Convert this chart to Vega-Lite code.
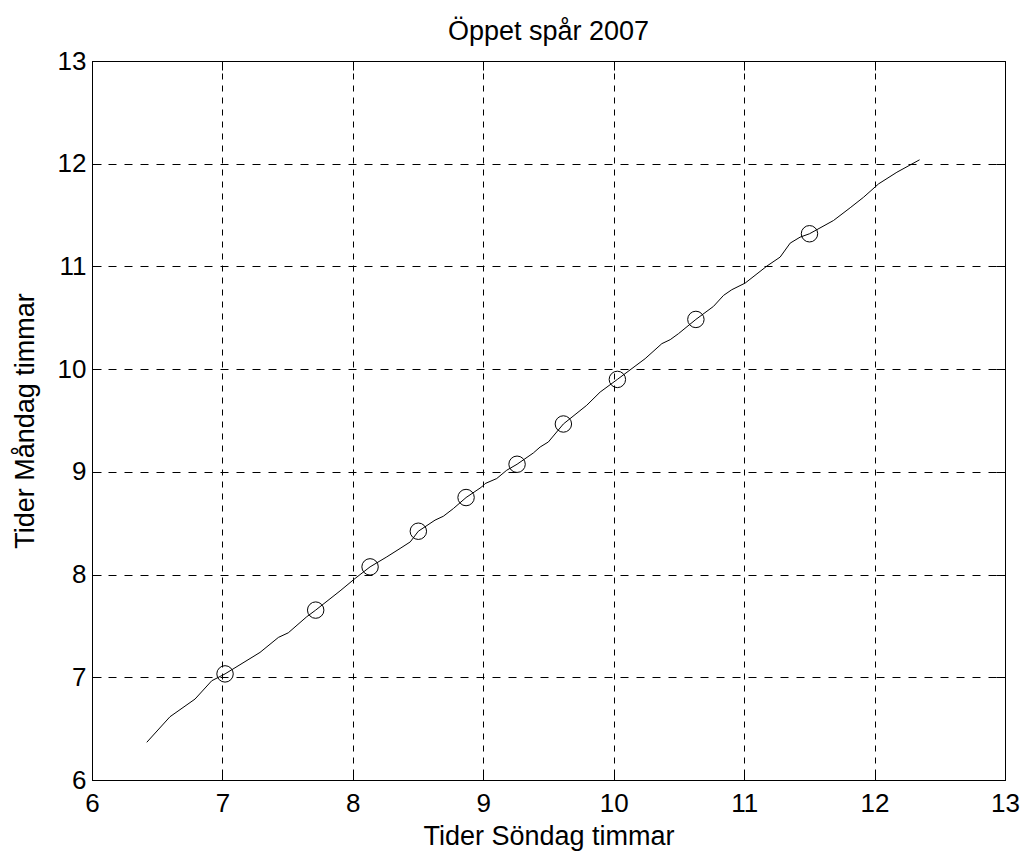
{
  "$schema": "https://vega.github.io/schema/vega-lite/v6.json",
  "autosize": "none",
  "width": 913,
  "height": 719,
  "padding": {"left": 92, "top": 61, "right": 18, "bottom": 72},
  "background": "white",
  "config": {
    "view": {"stroke": "black", "strokeWidth": 1},
    "font": "Liberation Sans",
    "axis": {
      "domainColor": "black",
      "tickColor": "black",
      "labelColor": "black",
      "titleColor": "black",
      "labelFont": "Liberation Sans",
      "titleFont": "Liberation Sans",
      "labelFontSize": 26,
      "titleFontSize": 27,
      "titleFontWeight": "normal",
      "gridColor": "black",
      "gridOpacity": 1,
      "gridWidth": 1
    }
  },
  "title": {
    "text": "Öppet spår 2007",
    "fontSize": 27,
    "font": "Liberation Sans",
    "fontWeight": "normal",
    "color": "black",
    "offset": 2
  },
  "datasets": {
    "line": [
      {"x": 6.42, "y": 6.367},
      {"x": 6.598, "y": 6.616},
      {"x": 6.79, "y": 6.788},
      {"x": 6.918, "y": 6.966},
      {"x": 7.02, "y": 7.033},
      {"x": 7.288, "y": 7.242},
      {"x": 7.429, "y": 7.388},
      {"x": 7.505, "y": 7.433},
      {"x": 7.646, "y": 7.589},
      {"x": 7.715, "y": 7.654},
      {"x": 7.902, "y": 7.841},
      {"x": 8.017, "y": 7.962},
      {"x": 8.132, "y": 8.075},
      {"x": 8.26, "y": 8.172},
      {"x": 8.362, "y": 8.254},
      {"x": 8.44, "y": 8.318},
      {"x": 8.502, "y": 8.422},
      {"x": 8.63, "y": 8.53},
      {"x": 8.694, "y": 8.568},
      {"x": 8.771, "y": 8.643},
      {"x": 8.868, "y": 8.75},
      {"x": 8.988, "y": 8.853},
      {"x": 9.014, "y": 8.886},
      {"x": 9.103, "y": 8.935},
      {"x": 9.18, "y": 9.016},
      {"x": 9.259, "y": 9.074},
      {"x": 9.384, "y": 9.184},
      {"x": 9.436, "y": 9.242},
      {"x": 9.499, "y": 9.291},
      {"x": 9.614, "y": 9.466},
      {"x": 9.793, "y": 9.648},
      {"x": 9.896, "y": 9.777},
      {"x": 10.028, "y": 9.9},
      {"x": 10.241, "y": 10.102},
      {"x": 10.369, "y": 10.248},
      {"x": 10.433, "y": 10.287},
      {"x": 10.496, "y": 10.345},
      {"x": 10.63, "y": 10.484},
      {"x": 10.765, "y": 10.611},
      {"x": 10.842, "y": 10.718},
      {"x": 10.905, "y": 10.773},
      {"x": 11.008, "y": 10.838},
      {"x": 11.174, "y": 11.003},
      {"x": 11.276, "y": 11.091},
      {"x": 11.353, "y": 11.227},
      {"x": 11.429, "y": 11.285},
      {"x": 11.501, "y": 11.318},
      {"x": 11.685, "y": 11.447},
      {"x": 11.813, "y": 11.571},
      {"x": 11.916, "y": 11.674},
      {"x": 12.031, "y": 11.804},
      {"x": 12.171, "y": 11.917},
      {"x": 12.345, "y": 12.038}
    ],
    "markers": [
      {"x": 7.02, "y": 7.033},
      {"x": 7.715, "y": 7.654},
      {"x": 8.132, "y": 8.075},
      {"x": 8.502, "y": 8.422},
      {"x": 8.868, "y": 8.75},
      {"x": 9.259, "y": 9.074},
      {"x": 9.614, "y": 9.466},
      {"x": 10.028, "y": 9.9},
      {"x": 10.63, "y": 10.484},
      {"x": 11.501, "y": 11.318}
    ]
  },
  "layer": [
    {
      "data": {"name": "line"},
      "mark": {"type": "line", "color": "black", "strokeWidth": 1, "interpolate": "linear"},
      "encoding": {
        "x": {
          "field": "x", "type": "quantitative",
          "scale": {"domain": [6, 13], "nice": false, "zero": false},
          "axis": {
            "values": [6, 7, 8, 9, 10, 11, 12, 13],
            "title": "Tider Söndag timmar",
            "tickSize": -9,
            "labelPadding": 19,
            "titlePadding": 7,
            "gridDash": [6, 6],
            "labelFlush": false
          }
        },
        "y": {
          "field": "y", "type": "quantitative",
          "scale": {"domain": [6, 13], "nice": false, "zero": false},
          "axis": {
            "values": [6, 7, 8, 9, 10, 11, 12, 13],
            "title": "Tider Måndag timmar",
            "tickSize": -9,
            "labelPadding": 15,
            "titlePadding": 18,
            "gridDash": [8, 8],
            "labelFlush": false
          }
        }
      }
    },
    {
      "data": {"name": "markers"},
      "mark": {"type": "point", "shape": "circle", "filled": false, "color": "black", "strokeWidth": 1, "size": 270, "opacity": 1},
      "encoding": {
        "x": {
          "field": "x", "type": "quantitative",
          "axis": {
            "orient": "top",
            "values": [6, 7, 8, 9, 10, 11, 12, 13],
            "labels": false, "grid": false, "title": null,
            "tickSize": -9, "domain": false
          }
        },
        "y": {
          "field": "y", "type": "quantitative",
          "axis": {
            "orient": "right",
            "values": [6, 7, 8, 9, 10, 11, 12, 13],
            "labels": false, "grid": false, "title": null,
            "tickSize": -9, "domain": false
          }
        }
      }
    }
  ],
  "resolve": {"axis": {"x": "independent", "y": "independent"}}
}
